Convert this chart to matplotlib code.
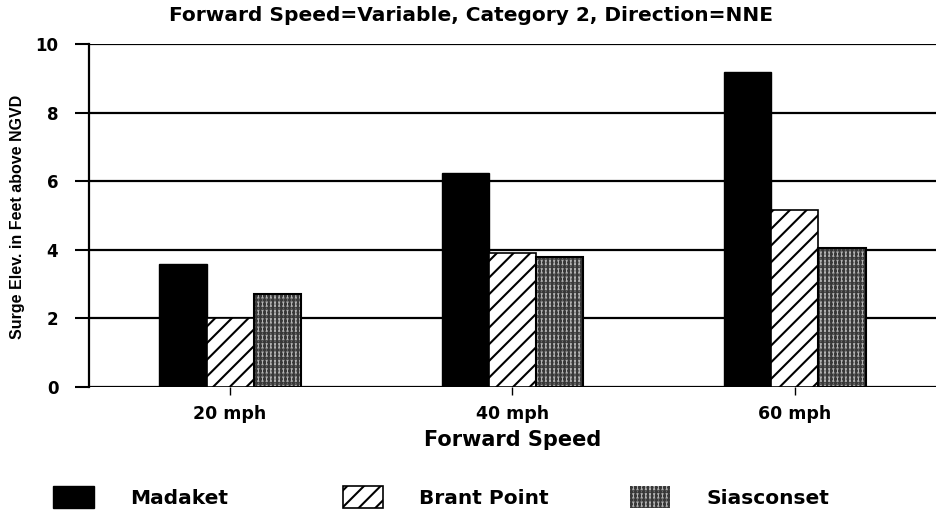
import numpy as np
import matplotlib
matplotlib.use("Agg")
import matplotlib.pyplot as plt

# --- data ---
speeds = ["20 mph", "40 mph", "60 mph"]
stations = ["Madaket", "Brant Point", "Siasconset"]
madaket = [3.6, 6.25, 9.2]
brant_point = [2.0, 3.9, 5.15]
siasconset = [2.7, 3.8, 4.05]

plt.rcParams["font.family"] = ["DejaVu Sans"]
plt.rcParams["font.weight"] = "bold"
plt.rcParams["hatch.linewidth"] = 1.5

fig = plt.figure(figsize=(9.36, 5.14), dpi=100)
ax = fig.add_axes([0.095, 0.247, 0.905, 0.667])

x = np.arange(len(speeds))
w = 0.167

b1 = ax.bar(x - w, madaket, w, color="black", edgecolor="black", linewidth=1, zorder=3)
b2 = ax.bar(x, brant_point, w, color="white", edgecolor="black", hatch="//", linewidth=1.2, zorder=3)
b3 = ax.bar(x + w, siasconset, w, color="#b4b4b4", edgecolor="#383838", hatch="||||....", linewidth=0, zorder=3)
ax.bar(x + w, siasconset, w, color="none", edgecolor="black", linewidth=1.5, zorder=4)

ax.set_xlim(-0.5, 2.5)
ax.set_ylim(0, 10)
ax.set_yticks([0, 2, 4, 6, 8, 10])
ax.set_yticklabels(["0", "2", "4", "6", "8", "10"], fontsize=12, fontweight="bold")
ax.set_xticks(x)
ax.set_xticklabels(speeds, fontsize=12.5, fontweight="bold")
ax.tick_params(axis="y", direction="out", length=10, width=1.5, pad=12)
ax.tick_params(axis="x", direction="out", length=6, width=1, pad=7)

ax.grid(axis="y", color="black", linewidth=1.6, zorder=1)
for s in ["top", "right", "bottom"]:
    ax.spines[s].set_visible(False)
ax.spines["left"].set_linewidth(1.6)

ax.set_xlabel("Forward Speed", fontsize=15, fontweight="bold", labelpad=5)
fig.text(0.019, 0.578, "Surge Elev. in Feet above NGVD", rotation=90, ha="center", va="center",
         fontsize=11.5, fontweight="bold", family=["Liberation Sans Narrow", "Liberation Sans"])
fig.text(0.503, 0.97, "Forward Speed=Variable, Category 2, Direction=NNE", ha="center", va="center",
         fontsize=14.5, fontweight="bold")

# legend: three fixed slots
slots = [0.057, 0.366, 0.673]
for handle, name, sx in zip([b1, b2, b3], stations, slots):
    fig.legend([handle], [name], loc="center left", bbox_to_anchor=(sx, 0.033),
               frameon=False, fontsize=14.5, handlelength=2.0, handleheight=1.3,
               handletextpad=1.8, borderpad=0, borderaxespad=0)

fig.savefig("out.png", dpi=100)
